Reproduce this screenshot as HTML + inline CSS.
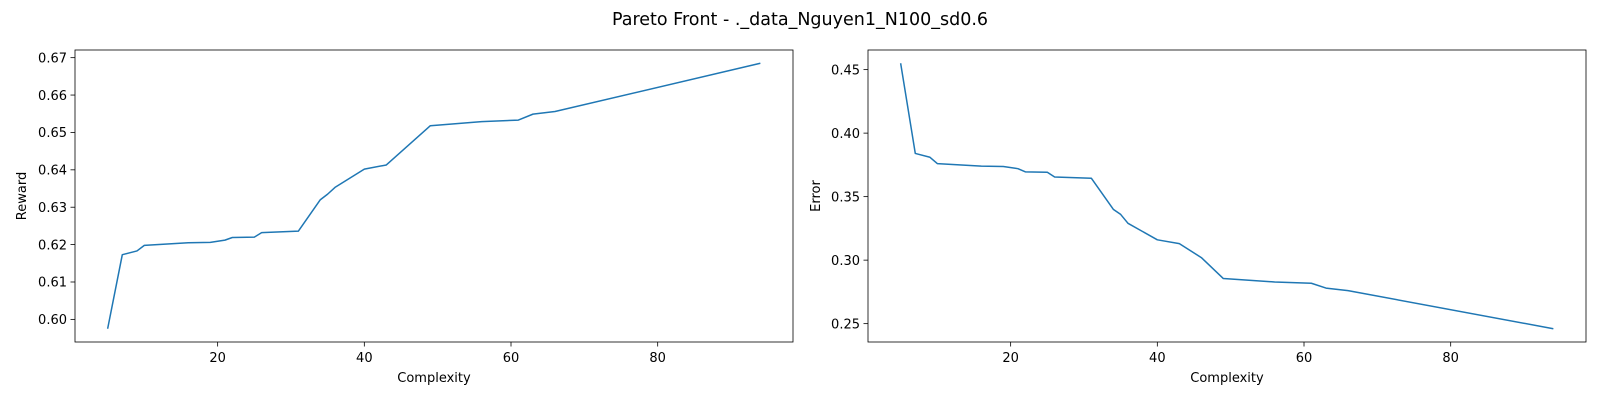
<!DOCTYPE html>
<html><head><meta charset="utf-8">
<style>
html,body{margin:0;padding:0;background:#fff;overflow:hidden;width:1600px;height:400px;font-family:"Liberation Sans","DejaVu Sans",sans-serif;}
svg{display:block;}
svg text{font-family:"DejaVu Sans","Liberation Sans",sans-serif;fill:#000;}
</style></head>
<body>
<svg id="chart" width="1600" height="400">
<text x="800" y="25" font-size="17.5" text-anchor="middle">Pareto Front - ._data_Nguyen1_N100_sd0.6</text>
</svg>
<script>
const complexity=[5,7,9,10,16,19,21,22,25,26,31,34,35,36,40,43,49,56,61,63,66,94];
const reward=[0.5975,0.6173,0.6183,0.6198,0.6205,0.6206,0.6212,0.6219,0.6220,0.6232,0.6236,0.6320,0.6335,0.6353,0.6402,0.6413,0.6518,0.6529,0.6533,0.6549,0.6556,0.6685];
const errorComplexity=[5,7,9,10,16,19,21,22,25,26,31,34,35,36,40,43,46,49,56,61,63,66,94];
const errorVals=[0.455,0.384,0.381,0.376,0.374,0.3737,0.372,0.3695,0.3692,0.3655,0.3645,0.340,0.336,0.329,0.316,0.313,0.302,0.2855,0.2828,0.2818,0.278,0.276,0.246];
const xTicks=[20,40,60,80];
const rewardTicks=[0.60,0.61,0.62,0.63,0.64,0.65,0.66,0.67];
const errorTicks=[0.25,0.30,0.35,0.40,0.45];
const NS="http://www.w3.org/2000/svg";
const svg=document.getElementById('chart');
function mk(tag,attrs,parent){const e=document.createElementNS(NS,tag);for(const k in attrs)e.setAttribute(k,attrs[k]);(parent||svg).appendChild(e);return e;}
function panel(px,xs,ys,yt,ylabel,prefix,digits,ylx){
  const L=px,R=px+718,T=50,B=342;
  const g=mk('g',{});
  
  
  const xmin=Math.min(...xs),xmax=Math.max(...xs),xm=(xmax-xmin)*0.05;
  const ymin=Math.min(...ys),ymax=Math.max(...ys),ym=(ymax-ymin)*0.05;
  const sx=v=>L+(v-(xmin-xm))/((xmax+xm)-(xmin-xm))*(R-L);
  const sy=v=>B-(v-(ymin-ym))/((ymax+ym)-(ymin-ym))*(B-T);
  const d=xs.map((x,i)=>(i?'L':'M')+sx(x).toFixed(2)+','+sy(ys[i]).toFixed(2)).join('');
  const line=mk('path',{d:d,fill:'none',stroke:'#1f77b4','stroke-width':1.5,'stroke-linejoin':'round'},g);
  
  
  xTicks.forEach(t=>{const x=sx(t);mk('line',{x1:x,x2:x,y1:B,y2:B+4.5,stroke:'#000','stroke-width':0.8},g);
    const tx=mk('text',{x:x,y:362,'font-size':13,'text-anchor':'middle'},g);tx.textContent=t;
    
    });
  yt.forEach(t=>{const y=sy(t);mk('line',{x1:L-4.5,x2:L,y1:y,y2:y,stroke:'#000','stroke-width':0.8},g);
    const tx=mk('text',{x:L-8,y:y+4.7,'font-size':13,'text-anchor':'end'},g);tx.textContent=t.toFixed(digits);
    
    });
  const fr=mk('rect',{x:L,y:T,width:R-L,height:B-T,fill:'none',stroke:'#000','stroke-width':0.8},g);
  
  
  const xl=mk('text',{x:(L+R)/2,y:382,'font-size':13,'text-anchor':'middle'},g);xl.textContent='Complexity';
  
  
  const yx=ylx,ycy=(T+B)/2;
  const yl=mk('text',{x:yx,y:ycy,'font-size':13,'text-anchor':'middle',transform:`rotate(-90 ${yx} ${ycy})`},g);yl.textContent=ylabel;
  
  
}
panel(75,complexity,reward,rewardTicks,'Reward','reward',2,26);
panel(868,errorComplexity,errorVals,errorTicks,'Error','error',2,820);
</script>
</body></html>
